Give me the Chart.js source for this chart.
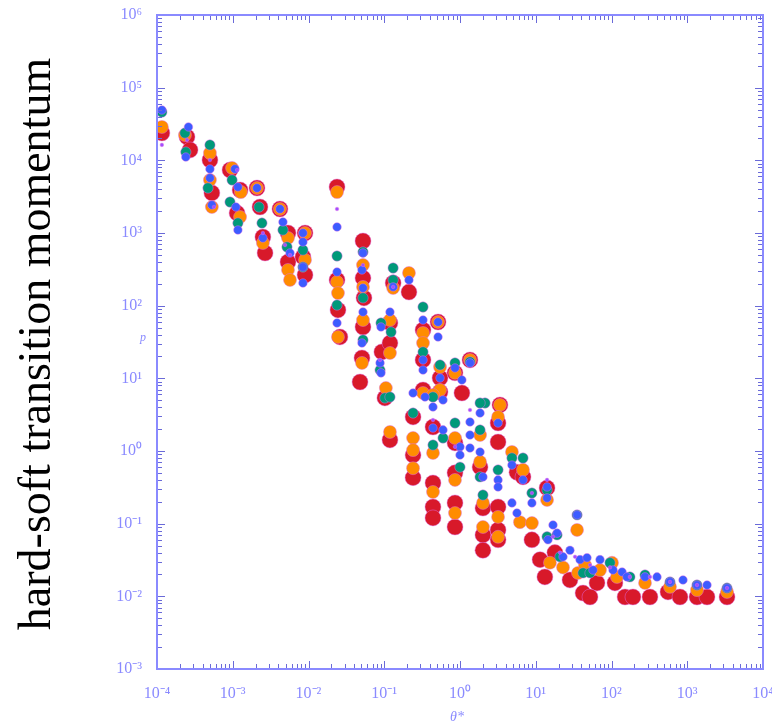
<!DOCTYPE html>
<html>
<head>
<meta charset="utf-8">
<script src="https://cdn.jsdelivr.net/npm/chart.js@4.4.1/dist/chart.umd.min.js"></script>
<style>
  html, body { margin: 0; padding: 0; background: #ffffff; overflow: hidden; }
  canvas { display: block; }
</style>
</head>
<body>
<canvas id="momentum_chart" width="772" height="728"></canvas>
<script>
// theta* and p, one pair of arrays per series
var red_theta = [1.16e-4, 2.49e-4, 2.73e-4, 5.0e-4, 5.3e-4, 9.2e-4, 1.25e-3, 1.14e-3, 2.09e-3, 2.29e-3,
                 2.5e-3, 2.67e-3, 4.2e-3, 5.36e-3, 5.36e-3, 9.0e-3, 8.45e-3, 9.0e-3, 2.38e-2, 2.38e-2,
                 2.45e-2, 2.6e-2, 5.24e-2, 5.24e-2, 5.4e-2, 5.24e-2, 5.08e-2, 4.79e-2, 0.131, 0.119,
                 0.093, 0.102, 0.119, 0.212, 0.325, 0.325, 0.325, 0.513, 0.545, 0.545,
                 0.859, 1.06, 1.355, 3.37, 0.119, 0.24, 0.24, 0.24, 0.44, 0.44,
                 0.44, 0.44, 0.859, 0.859, 0.859, 0.859, 1.84, 2.01, 2.01, 2.01,
                 3.18, 3.18, 3.18, 3.18, 3.18, 5.65, 6.79, 8.9, 14.1, 11.4,
                 13.2, 17.9, 28.3, 42.1, 64.4, 52.0, 111, 151, 192, 322,
                 557, 802, 1345, 1824, 3350];
var red_p = [2.38e4, 2.1e4, 1.39e4, 1.01e4, 3.56e3, 7.36e3, 3.91e3, 1.88e3, 4.16e3, 2.28e3,
             881, 531, 2.14e3, 1.0e3, 399, 1.0e3, 468, 264, 4.3e3, 226,
             87.3, 37.1, 776, 240, 128, 50.9, 19.1, 8.9, 205, 57.8,
             23.1, 5.37, 30.6, 154, 46.3, 17.9, 6.92, 59.6, 10.1, 6.49,
             11.9, 6.28, 17.9, 4.3, 1.42, 2.94, 0.88, 0.43, 2.14, 0.363,
             0.17, 0.12, 1.29, 0.50, 0.193, 0.090, 0.60, 0.164, 0.070, 0.043,
             2.43, 1.33, 0.17, 0.082, 0.060, 0.51, 0.44, 0.060, 0.31, 0.032,
             0.0185, 0.040, 0.0168, 0.0111, 0.0153, 0.0098, 0.0153, 0.0098, 0.0098, 0.0098,
             0.0115, 0.0098, 0.0098, 0.0098, 0.0098];

var orange_theta = [1.16e-4, 2.34e-4, 5.0e-4, 5.0e-4, 5.3e-4, 9.8e-4, 1.28e-3, 1.25e-3, 2.09e-3, 2.5e-3,
                    4.2e-3, 5.36e-3, 5.36e-3, 5.7e-3, 9.0e-3, 9.0e-3, 2.38e-2, 2.38e-2, 2.45e-2, 2.45e-2,
                    5.24e-2, 5.24e-2, 5.24e-2, 5.08e-2, 0.131, 0.119, 0.119, 0.105, 0.212, 0.325,
                    0.325, 0.325, 0.513, 0.545, 0.545, 0.859, 1.355, 3.37, 0.119, 0.24,
                    0.24, 0.24, 0.44, 0.44, 0.44, 0.859, 0.859, 0.859, 1.84, 1.84,
                    2.01, 2.01, 3.18, 3.18, 3.18, 4.85, 6.79, 6.19, 8.9, 14.1,
                    15.4, 22.9, 35.1, 36.1, 44.7, 70.5, 101.6, 118, 277, 592,
                    1345, 3350];
var orange_p = [2.88e4, 2.23e4, 1.26e4, 5.36e3, 2.28e3, 7.85e3, 3.66e3, 1.66e3, 4.16e3, 729,
                2.14e3, 853, 310, 226, 1.0e3, 426, 3.66e3, 212, 149, 37.1,
                363, 181, 63.5, 16.3, 175, 63.5, 22.3, 7.36, 282, 42.1,
                30.6, 6.28, 59.6, 14.3, 6.92, 11.9, 17.9, 4.3, 1.83, 1.51,
                1.03, 0.58, 5.9, 0.94, 0.273, 1.51, 0.40, 0.14, 1.66, 0.71,
                0.193, 0.090, 2.94, 0.124, 0.066, 0.97, 0.55, 0.105, 0.102, 0.212,
                0.029, 0.025, 0.082, 0.021, 0.027, 0.023, 0.029, 0.0185, 0.0153, 0.0135,
                0.0122, 0.0115];

var green_theta = [1.16e-4, 2.34e-4, 2.4e-4, 5.0e-4, 4.71e-4, 9.8e-4, 9.2e-4, 1.17e-3, 2.22e-3, 2.43e-3,
                   4.6e-3, 5.2e-3, 8.45e-3, 8.45e-3, 2.38e-2, 2.38e-2, 5.24e-2, 5.24e-2, 5.24e-2, 0.131,
                   0.131, 0.123, 0.0906, 0.088, 0.102, 0.325, 0.325, 0.545, 0.859, 1.355,
                   2.14, 0.119, 0.24, 0.44, 0.44, 0.597, 0.859, 1.0, 1.84, 1.84,
                   1.84, 2.01, 3.18, 4.85, 6.79, 8.9, 14.1, 14.1, 19.1, 20.9,
                   35.1, 42.1, 52.0, 95.5, 175, 277, 592, 1345, 3350];
var green_p = [4.62e4, 2.38e4, 1.30e4, 1.63e4, 4.16e3, 5.36e3, 2.67e3, 1.37e3, 2.28e3, 1.37e3,
               1.1e3, 642, 584, 340, 483, 102, 548, 128, 33.7, 330,
               226, 43.4, 57.8, 13.0, 5.37, 95.9, 23.1, 15.3, 16.3, 16.8,
               4.58, 5.53, 3.33, 5.53, 1.21, 1.51, 2.43, 0.60, 4.58, 1.95,
               0.44, 0.248, 0.55, 0.80, 0.80, 0.264, 0.29, 0.066, 0.070, 0.035,
               0.132, 0.021, 0.021, 0.029, 0.0185, 0.0197, 0.0158, 0.0143, 0.013];

var blue_theta = [1.16e-4, 2.6e-4, 2.4e-4, 5.0e-4, 5.0e-4, 5.3e-4, 1.07e-3, 1.17e-3, 1.1e-3, 1.17e-3,
                  2.09e-3, 2.5e-3, 4.2e-3, 4.6e-3, 5.7e-3, 8.45e-3, 8.45e-3, 8.45e-3, 8.45e-3, 2.38e-2,
                  2.38e-2, 2.38e-2, 5.24e-2, 5.08e-2, 5.24e-2, 5.24e-2, 5.08e-2, 0.131, 0.119, 0.0906,
                  0.088, 0.0906, 0.212, 0.325, 0.325, 0.325, 0.345, 0.513, 0.513, 0.545,
                  0.859, 1.06, 1.355, 0.24, 0.44, 0.44, 0.597, 0.597, 1.0, 1.0,
                  1.355, 1.355, 1.355, 1.84, 1.84, 2.01, 3.18, 3.18, 3.18, 4.85,
                  4.85, 5.65, 6.79, 8.9, 14.1, 14.1, 16.9, 14.5, 19.1, 22.9,
                  28.3, 35.1, 38.4, 47.5, 57.0, 70.5, 104.7, 138, 160, 277,
                  399, 592, 879, 1345, 1824, 3350];
var blue_p = [4.93e4, 2.88e4, 1.11e4, 7.6e3, 5.71e3, 2.43e3, 7.6e3, 4.3e3, 2.28e3, 1.1e3,
              4.16e3, 853, 2.14e3, 1.42e3, 531, 1.0e3, 752, 340, 205, 1.21e3,
              291, 57.8, 531, 310, 175, 81.9, 30.6, 181, 81.9, 50.9,
              16.3, 11.9, 226, 63.5, 17.9, 13.0, 5.53, 59.6, 37.1, 10.1,
              13.9, 9.5, 16.3, 6.28, 4.04, 2.07, 5.04, 1.95, 1.14, 0.88,
              2.51, 1.66, 1.10, 3.33, 0.97, 0.44, 2.43, 0.40, 0.32, 0.64,
              0.193, 0.14, 0.40, 0.193, 0.32, 0.226, 0.096, 0.060, 0.074, 0.035,
              0.043, 0.132, 0.032, 0.034, 0.023, 0.032, 0.023, 0.0216, 0.0185, 0.0185,
              0.0185, 0.0158, 0.0168, 0.0143, 0.0143, 0.013];

var purple_theta = [1.16e-4, 2.49e-4, 5.0e-4, 5.65e-4, 1.14e-3, 2.5e-3, 4.9e-3, 5.7e-3, 2.38e-2, 5.24e-2,
                    0.088, 0.131, 0.44, 0.859, 1.355, 8.9, 14.1, 16.9, 20.9, 33.0,
                    52.0, 95.5, 175, 322, 592, 1345, 3350];
var purple_p = [1.63e4, 1.91e4, 1.01e4, 2.28e3, 7.36e3, 1.0e3, 684, 498, 2.14e3, 363,
                17.9, 181, 2.67, 1.14, 3.67, 0.264, 0.40, 0.066, 0.040, 0.035,
                0.027, 0.025, 0.0185, 0.0185, 0.0158, 0.0143, 0.013];

var x_decades = [1e-4, 1e-3, 1e-2, 1e-1, 1e0, 1e1, 1e2, 1e3, 1e4];
var y_decades = [1e-3, 1e-2, 1e-1, 1e0, 1e1, 1e2, 1e3, 1e4, 1e5, 1e6];
var sup_digits = {"-": "\u207B", "0": "\u2070", "1": "\u00B9", "2": "\u00B2", "3": "\u00B3",
                  "4": "\u2074", "5": "\u2075", "6": "\u2076", "7": "\u2077", "8": "\u2078", "9": "\u2079"};

var axis_blue = "#8a8aff";
var tick_dark = "#6a6ad8";

function to_points(xs, ys){
    let pts = [];
    for (let i = 0; i < xs.length; i++) {
        pts.push({x: xs[i], y: ys[i]});
    }
    return pts;
}

function power_label(value){
    let e = String(Math.round(Math.log10(value)));
    let s = "";
    for (let c of e) {
        s += sup_digits[c];
    }
    return "10" + s;
}

// frame with inward log ticks on all four sides, plus the free texts
const frame_plugin = {
    id: "frame_plugin",
    afterDatasetsDraw(chart){
        const ctx = chart.ctx;
        const a = chart.chartArea;
        const xs = chart.scales.x;
        const ys = chart.scales.y;

        ctx.save();
        ctx.strokeStyle = tick_dark;
        ctx.lineWidth = 1;
        ctx.beginPath();
        for (let d = -4; d < 4; d++) {
            for (let k = 1; k < 10; k++) {
                let px = Math.round(xs.getPixelForValue(k * Math.pow(10, d))) + 0.5;
                let len = (k == 1) ? 8 : 5;
                ctx.moveTo(px, a.bottom); ctx.lineTo(px, a.bottom - len);
                ctx.moveTo(px, a.top); ctx.lineTo(px, a.top + len);
            }
        }
        for (let d = -3; d < 6; d++) {
            for (let k = 1; k < 10; k++) {
                let py = Math.round(ys.getPixelForValue(k * Math.pow(10, d))) + 0.5;
                let len = (k == 1) ? 8 : 5;
                ctx.moveTo(a.left, py); ctx.lineTo(a.left + len, py);
                ctx.moveTo(a.right, py); ctx.lineTo(a.right - len, py);
            }
        }
        ctx.stroke();

        ctx.strokeStyle = axis_blue;
        ctx.lineWidth = 2;
        ctx.strokeRect(a.left, a.top, a.right - a.left, a.bottom - a.top);

        // axis titles
        ctx.fillStyle = axis_blue;
        ctx.textAlign = "center";
        ctx.textBaseline = "middle";
        ctx.font = "italic 12px 'Liberation Serif'";
        ctx.fillText("p", 143, 338);
        ctx.font = "italic 14px 'Liberation Serif'";
        ctx.fillText("\u03B8*", 457, 717);

        // big caption on the left
        ctx.fillStyle = "#000000";
        ctx.font = "46px 'Liberation Serif'";
        ctx.textBaseline = "alphabetic";
        ctx.translate(50, 344);
        ctx.rotate(-Math.PI / 2);
        ctx.fillText("hard-soft transition momentum", 0, 0);
        ctx.restore();
    }
};

function make_dataset(label, xs, ys, color, radius){
    return {
        label: label,
        data: to_points(xs, ys),
        backgroundColor: color,
        borderColor: "rgba(225,110,235,0.45)",
        borderWidth: 1,
        pointRadius: radius,
        pointHoverRadius: radius
    };
}

function make_momentum_chart(){
    // Chart.js paints the first dataset on top, so the small markers go first
    new Chart(document.getElementById("momentum_chart"), {
        type: "scatter",
        data: {
            datasets: [
                make_dataset("purple", purple_theta, purple_p, "#a050ff", 1.8),
                make_dataset("blue", blue_theta, blue_p, "#3c5cff", 4.3),
                make_dataset("green", green_theta, green_p, "#00997a", 5.2),
                make_dataset("orange", orange_theta, orange_p, "#ff8c00", 6.5),
                make_dataset("red", red_theta, red_p, "#d8192a", 8)
            ]
        },
        options: {
            responsive: false,
            animation: false,
            devicePixelRatio: 1,
            layout: {
                padding: {left: 0, right: 9, top: 15, bottom: 0}
            },
            plugins: {
                legend: {display: false},
                tooltip: {enabled: false}
            },
            scales: {
                x: {
                    type: "logarithmic",
                    min: 1e-4,
                    max: 1e4,
                    grid: {display: false, drawTicks: false},
                    border: {display: false},
                    afterBuildTicks: function(scale){
                        scale.ticks = x_decades.map(v => ({value: v}));
                    },
                    afterFit: function(scale){
                        scale.height = 59;
                        scale.paddingLeft = 0;
                        scale.paddingRight = 0;
                    },
                    ticks: {
                        autoSkip: false,
                        maxRotation: 0,
                        padding: 15,
                        color: axis_blue,
                        font: {family: "'Liberation Serif'", size: 16},
                        callback: function(value){ return power_label(value); }
                    }
                },
                y: {
                    type: "logarithmic",
                    min: 1e-3,
                    max: 1e6,
                    grid: {display: false, drawTicks: false},
                    border: {display: false},
                    afterBuildTicks: function(scale){
                        scale.ticks = y_decades.map(v => ({value: v}));
                    },
                    afterFit: function(scale){
                        scale.width = 157;
                        scale.paddingTop = 0;
                        scale.paddingBottom = 0;
                    },
                    ticks: {
                        autoSkip: false,
                        padding: 15,
                        color: axis_blue,
                        font: {family: "'Liberation Serif'", size: 16},
                        callback: function(value){ return power_label(value); }
                    }
                }
            }
        },
        plugins: [frame_plugin]
    });
}

make_momentum_chart();
</script>
</body>
</html>
